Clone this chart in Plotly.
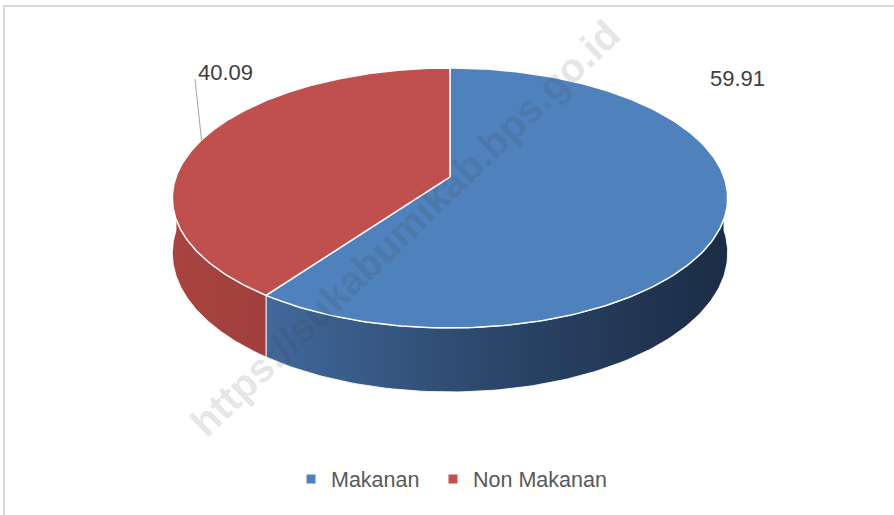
import numpy as np
import plotly.graph_objects as go

# ---- data ----
categories = ["Makanan", "Non Makanan"]
values = [59.91, 40.09]
label_text = ["59.91", "40.09"]
top_colors = ["#4f81bd", "#c0504d"]
side_scales = [
    [[0, "#41699b"], [0.5, "#2b4669"], [1, "#1b2c45"]],
    [[0, "#a8443f"], [1, "#a03f3c"]],
]
watermark = "https://sukabumikab.bps.go.id"

# ---- geometry of the tilted (perspective) pie, in pixel space ----
CX, CY, A, B, K, D = 450.0, 176.9, 274.0, 126.6, 0.162, 53.6
W, H = 894, 515


def proj(theta_deg, drop=0.0):
    t = np.radians(theta_deg)
    X, Z = np.sin(t), np.cos(t)
    s = 1 + K * Z
    return CX + A * X / s, CY - B * Z / s + drop / s


total = sum(values)
angles = np.concatenate([[0], np.cumsum(values) / total * 360.0])

fig = go.Figure()

# side walls (front half only, 90..270 deg clockwise from top)
for i in range(len(values)):
    a0, a1 = max(angles[i], 90.0), min(angles[i + 1], 270.0)
    if a1 <= a0:
        continue
    th = np.linspace(a0, a1, 120)
    xt, yt = proj(th)
    xb, yb = proj(th[::-1], D)
    xs = np.concatenate([xt, xb, xt[:1]])
    ys = np.concatenate([yt, yb, yt[:1]])
    fig.add_trace(go.Scatter(
        x=xs, y=ys, mode="lines", fill="toself",
        fillgradient=dict(type="horizontal", colorscale=side_scales[i]),
        line=dict(color="rgba(255,255,255,0.85)", width=1),
        hoverinfo="skip", showlegend=False))

# top faces
for i in range(len(values)):
    th = np.linspace(angles[i], angles[i + 1], 240)
    xr, yr = proj(th)
    xs = np.concatenate([[CX], xr, [CX]])
    ys = np.concatenate([[CY], yr, [CY]])
    fig.add_trace(go.Scatter(
        x=xs, y=ys, mode="lines", fill="toself", fillcolor=top_colors[i],
        line=dict(color="white", width=1.5),
        name=categories[i], hoverinfo="skip", showlegend=False))

# legend entries (one legend box per entry to control spacing)
legend_ids = ["legend", "legend2"]
for i in range(len(values)):
    fig.add_trace(go.Scatter(
        x=[None], y=[None], mode="markers",
        marker=dict(symbol="square", size=9, color=top_colors[i]),
        name=categories[i], legend=legend_ids[i]))

# data labels
label_pos = [(737, 78), (225, 72)]
for i in range(len(values)):
    fig.add_annotation(x=label_pos[i][0], y=label_pos[i][1], text=label_text[i],
                       showarrow=False, xanchor="center", yanchor="middle",
                       font=dict(family="Liberation Sans, Arial, sans-serif",
                                 size=22, color="#404040"))

# leader line for the small slice
mid = (angles[1] + angles[2]) / 2
lx, ly = proj(mid)
fig.add_shape(type="line", x0=195, y0=79, x1=float(lx), y1=float(ly),
              xref="x", yref="y", line=dict(color="#a6a6a6", width=1))

# chart frame
fig.add_shape(type="path", path=f"M 4 {H} L 4 6 L {W} 6",
              xref="x", yref="y", line=dict(color="#d9d9d9", width=2))

# watermark
fig.add_annotation(x=405, y=228, text=watermark, showarrow=False, textangle=-44,
                   xanchor="center", yanchor="middle",
                   font=dict(family="Liberation Sans, Arial, sans-serif", size=40,
                             color="rgba(60,60,60,0.15)", weight="bold"))

legend_font = dict(family="Liberation Sans, Arial, sans-serif", size=21.5, color="#595959")
fig.update_xaxes(range=[0, W], visible=False, fixedrange=True)
fig.update_yaxes(range=[H, 0], visible=False, fixedrange=True)
fig.update_layout(
    width=W, height=H, margin=dict(l=0, r=0, t=0, b=0),
    paper_bgcolor="white", plot_bgcolor="white",
    showlegend=True,
    legend=dict(orientation="h", x=291 / W, y=1 - 479 / H,
                xanchor="left", yanchor="middle", font=legend_font,
                bgcolor="rgba(0,0,0,0)"),
    legend2=dict(orientation="h", x=433 / W, y=1 - 479 / H,
                 xanchor="left", yanchor="middle", font=legend_font,
                 bgcolor="rgba(0,0,0,0)"),
)

fig.write_html("out.html", config={"displayModeBar": False},
               post_script="document.body.style.margin='0px';document.body.style.overflow='hidden';")
